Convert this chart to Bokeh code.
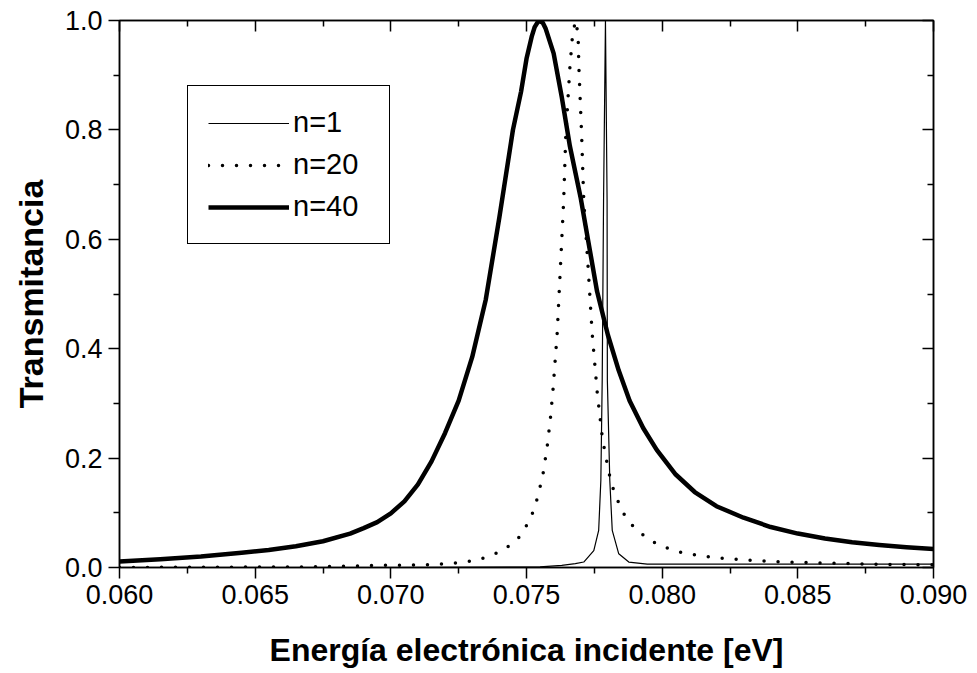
from bokeh.plotting import figure
from bokeh.models import (Range1d, FixedTicker, NumeralTickFormatter, LinearAxis,
                          Legend, LegendItem, CustomJSTickFormatter)
from bokeh.embed import file_html
from bokeh.resources import INLINE

# Transmission vs incident electron energy for three superlattice sizes
energy_n1 = [0.0600, 0.0700, 0.0755, 0.0763, 0.0768, 0.07711, 0.07748, 0.07766,
             0.07774, 0.07779, 0.07784, 0.07791, 0.07797, 0.07798, 0.07807,
             0.07816, 0.07840, 0.07877, 0.07945, 0.0830, 0.0870, 0.0900]
trans_n1 = [0.000, 0.000, 0.001, 0.004, 0.007, 0.010, 0.031, 0.068,
            0.159, 0.342, 0.671, 1.000, 0.671, 0.342, 0.159,
            0.068, 0.025, 0.010, 0.006, 0.006, 0.006, 0.006]

energy_n20 = [0.0600, 0.0667, 0.06987, 0.07149, 0.07201, 0.07257, 0.07312, 0.07366,
              0.07420, 0.07472, 0.07508, 0.07531, 0.07559, 0.07576, 0.07588,
              0.07598, 0.07613, 0.07625, 0.07637, 0.07645, 0.07660, 0.07670,
              0.07681, 0.07690, 0.07693, 0.07703, 0.07711, 0.07727, 0.07742,
              0.07761, 0.07780, 0.07801, 0.07813, 0.07832, 0.07856, 0.07895,
              0.07950, 0.08004, 0.08058, 0.08112, 0.08166, 0.08221, 0.08277,
              0.08332, 0.08442, 0.08608, 0.08829, 0.0900]
trans_n20 = [0.000, 0.001, 0.004, 0.005, 0.007, 0.009, 0.013, 0.021,
             0.033, 0.055, 0.083, 0.110, 0.165, 0.220, 0.272,
             0.327, 0.428, 0.549, 0.671, 0.793, 0.915, 0.975,
             1.000, 0.975, 0.915, 0.793, 0.671, 0.549, 0.428,
             0.318, 0.235, 0.180, 0.153, 0.127, 0.100, 0.074,
             0.051, 0.038, 0.029, 0.024, 0.020, 0.017, 0.015,
             0.013, 0.010, 0.008, 0.0055, 0.005]

energy_n40 = [0.0600, 0.0615, 0.0630, 0.0645, 0.0655, 0.0665, 0.0675, 0.0685,
              0.0690, 0.0695, 0.0700, 0.0705, 0.0710, 0.0715, 0.0720,
              0.0725, 0.0730, 0.0735, 0.0740, 0.0745, 0.0748, 0.0750,
              0.0752, 0.0753, 0.07545, 0.0756, 0.0757, 0.0760, 0.0763,
              0.0766, 0.0770, 0.0773, 0.0776, 0.0780, 0.0784, 0.0788,
              0.0793, 0.0798, 0.0805, 0.0812, 0.0820, 0.0830, 0.0840,
              0.0850, 0.0860, 0.0870, 0.0880, 0.0890, 0.0900]
trans_n40 = [0.011, 0.015, 0.020, 0.027, 0.032, 0.039, 0.048, 0.062,
             0.072, 0.083, 0.099, 0.121, 0.152, 0.194, 0.246,
             0.305, 0.385, 0.490, 0.640, 0.800, 0.870, 0.930,
             0.972, 0.988, 1.000, 0.996, 0.986, 0.940, 0.860,
             0.770, 0.675, 0.590, 0.505, 0.425, 0.360, 0.305,
             0.255, 0.215, 0.170, 0.138, 0.112, 0.091, 0.074,
             0.062, 0.053, 0.046, 0.041, 0.037, 0.034]

x_major = [0.060, 0.065, 0.070, 0.075, 0.080, 0.085, 0.090]
x_minor = [0.0625, 0.0675, 0.0725, 0.0775, 0.0825, 0.0875]
y_major = [0.0, 0.2, 0.4, 0.6, 0.8, 1.0]
y_minor = [0.1, 0.3, 0.5, 0.7, 0.9]

FONT = "Liberation Sans"

p = figure(width=977, height=673, output_backend="svg", toolbar_location=None,
           x_range=Range1d(0.060, 0.090), y_range=Range1d(0.0, 1.0),
           min_border_left=119, min_border_right=44, min_border_top=20,
           min_border_bottom=106)
p.xgrid.grid_line_color = None
p.ygrid.grid_line_color = None
p.outline_line_color = "black"
p.outline_line_width = 1.5
p.background_fill_color = "white"
p.border_fill_color = "white"

xticker = FixedTicker(ticks=x_major, minor_ticks=x_minor)
yticker = FixedTicker(ticks=y_major, minor_ticks=y_minor)


def style_axis(ax, outward):
    ax.axis_line_color = "black"
    ax.major_tick_line_color = "black"
    ax.minor_tick_line_color = "black"
    ax.axis_line_width = 1.5
    ax.major_tick_line_width = 1.5
    ax.minor_tick_line_width = 1.5
    if outward:
        ax.major_tick_out, ax.major_tick_in = 11, 0
        ax.minor_tick_out, ax.minor_tick_in = 6, 0
    else:
        ax.major_tick_out, ax.major_tick_in = 0, 11
        ax.minor_tick_out, ax.minor_tick_in = 0, 6


def style_labels(ax, fmt, title, size, standoff):
    ax.formatter = NumeralTickFormatter(format=fmt)
    ax.major_label_text_font = FONT
    ax.major_label_text_font_size = "27px"
    ax.major_label_text_color = "black"
    ax.major_label_standoff = 6
    ax.axis_label = title
    ax.axis_label_text_font = FONT
    ax.axis_label_text_font_style = "bold"
    ax.axis_label_text_font_size = size
    ax.axis_label_text_color = "black"
    ax.axis_label_standoff = standoff


xb = p.xaxis[0]
xb.ticker = xticker
style_axis(xb, True)
style_labels(xb, "0.000", "Energía electrónica incidente [eV]", "32px", 25)

yl = p.yaxis[0]
yl.ticker = yticker
style_axis(yl, True)
style_labels(yl, "0.0", "Transmitancia", "34px", 12)

# mirror axes on the top and right carry ticks only
blank = CustomJSTickFormatter(code="return ''")
xt = LinearAxis(ticker=xticker, formatter=blank, major_label_standoff=0)
style_axis(xt, False)
p.add_layout(xt, "above")
yr = LinearAxis(ticker=yticker, formatter=blank, major_label_standoff=0)
style_axis(yr, False)
p.add_layout(yr, "right")

r1 = p.line(energy_n1, trans_n1, line_color="black", line_width=1.2)
r20 = p.line(energy_n20, trans_n20, line_color="black", line_width=3.5,
             line_dash="0 14", line_cap="round")
r40 = p.line(energy_n40, trans_n40, line_color="black", line_width=4.5,
             line_join="round")

legend = Legend(items=[LegendItem(label="n=1", renderers=[r1]),
                       LegendItem(label="n=20", renderers=[r20]),
                       LegendItem(label="n=40", renderers=[r40])],
                location=(68, 323), margin=0, padding=20, spacing=9,
                glyph_width=81, glyph_height=32, label_height=32,
                label_width=76, label_standoff=4, label_text_font=FONT,
                label_text_font_size="29px", label_text_color="black",
                border_line_color="black", border_line_alpha=1.0,
                border_line_width=1, background_fill_color="white",
                background_fill_alpha=1.0)
p.add_layout(legend)

open("out.html", "w").write(file_html(p, INLINE))
